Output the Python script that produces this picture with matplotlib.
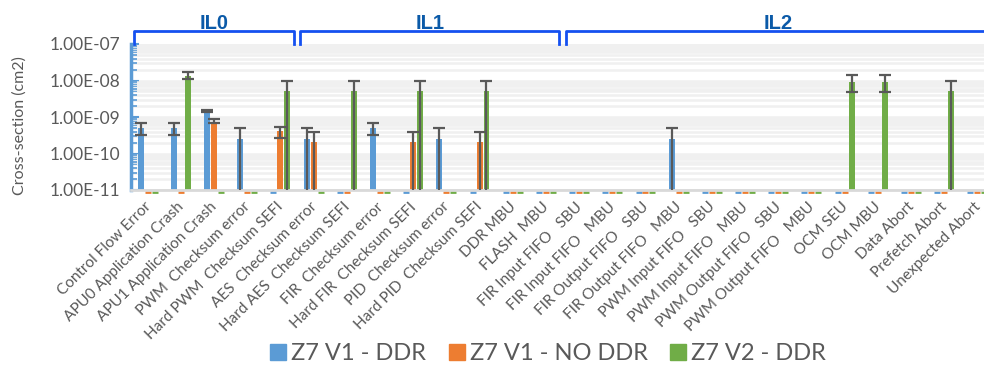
import numpy as np
import matplotlib.pyplot as plt
import matplotlib.transforms as mtransforms
from matplotlib.lines import Line2D

plt.rcParams['font.family'] = ['Lato', 'DejaVu Sans']

# categories (x axis)
categories = [
    'Control Flow Error', 'APU0 Application Crash', 'APU1 Application Crash',
    'PWM  Checksum error', 'Hard PWM  Checksum SEFI', 'AES  Checksum error',
    'Hard AES  Checksum SEFI', 'FIR  Checksum error', 'Hard FIR  Checksum SEFI',
    'PID  Checksum error', 'Hard PID  Checksum SEFI', 'DDR MBU', 'FLASH  MBU',
    'FIR Input FIFO   SBU', 'FIR Input FIFO   MBU', 'FIR Output FIFO   SBU',
    'FIR Output FIFO   MBU', 'PWM Input FIFO   SBU', 'PWM Input FIFO   MBU',
    'PWM Output FIFO   SBU', 'PWM Output FIFO   MBU', 'OCM SEU', 'OCM MBU',
    'Data Abort', 'Prefetch Abort', 'Unexpected Abort',
]
series_names = ['Z7 V1 - DDR', 'Z7 V1 - NO DDR', 'Z7 V2 - DDR']

# cross-section values (0 = no event)
v1_ddr = [5e-10, 5e-10, 1.45e-9, 2.5e-10, 0, 2.5e-10, 0, 5e-10, 0, 2.5e-10, 0,
          0, 0, 0, 0, 0, 2.5e-10, 0, 0, 0, 0, 0, 0, 0, 0, 0]
v1_noddr = [0, 0, 7.5e-10, 0, 4e-10, 2e-10, 0, 0, 2e-10, 0, 2e-10,
            0, 0, 0, 0, 0, 0, 0, 0, 0, 0, 0, 0, 0, 0, 0]
v2_ddr = [0, 1.3e-8, 0, 0, 5e-9, 0, 5e-9, 0, 5e-9, 0, 5e-9,
          0, 0, 0, 0, 0, 0, 0, 0, 0, 0, 9e-9, 9e-9, 0, 5e-9, 0]

# error bar limits (None = lower limit below the axis)
v1_ddr_lo = [3.2e-10, 3.2e-10, 1.35e-9, None, 0, None, 0, 3.2e-10, 0, None, 0,
             0, 0, 0, 0, 0, None, 0, 0, 0, 0, 0, 0, 0, 0, 0]
v1_ddr_hi = [6.8e-10, 6.8e-10, 1.6e-9, 5e-10, 0, 5e-10, 0, 6.8e-10, 0, 5e-10, 0,
             0, 0, 0, 0, 0, 5e-10, 0, 0, 0, 0, 0, 0, 0, 0, 0]
v1_noddr_lo = [0, 0, 6.9e-10, 0, 2.6e-10, None, 0, 0, None, 0, None,
               0, 0, 0, 0, 0, 0, 0, 0, 0, 0, 0, 0, 0, 0, 0]
v1_noddr_hi = [0, 0, 9e-10, 0, 5.4e-10, 4e-10, 0, 0, 4e-10, 0, 4e-10,
               0, 0, 0, 0, 0, 0, 0, 0, 0, 0, 0, 0, 0, 0, 0]
v2_ddr_lo = [0, 1.07e-8, 0, 0, None, 0, None, 0, None, 0, None,
             0, 0, 0, 0, 0, 0, 0, 0, 0, 0, 4.8e-9, 4.8e-9, 0, None, 0]
v2_ddr_hi = [0, 1.7e-8, 0, 0, 1e-8, 0, 1e-8, 0, 1e-8, 0, 1e-8,
             0, 0, 0, 0, 0, 0, 0, 0, 0, 0, 1.38e-8, 1.38e-8, 0, 1e-8, 0]

# test groups (label, first category, last category)
groups = [('IL0', 0, 4), ('IL1', 5, 12), ('IL2', 13, 25)]

colors = ['#5B9BD5', '#ED7D31', '#70AD47']
txt = '#595959'

fig = plt.figure(figsize=(9.84, 3.67), dpi=100)
ax = fig.add_axes([131 / 984, 177 / 367, 863 / 984, 146 / 367])

x = np.arange(len(categories))
offsets = [-0.21, 0.0, 0.21]
width = 0.18
vals_all = [v1_ddr, v1_noddr, v2_ddr]
lo_all = [v1_ddr_lo, v1_noddr_lo, v2_ddr_lo]
hi_all = [v1_ddr_hi, v1_noddr_hi, v2_ddr_hi]
below = mtransforms.blended_transform_factory(ax.transData, ax.transAxes)

for vals, lo, hi, off, c in zip(vals_all, lo_all, hi_all, offsets, colors):
    vals = np.array(vals, dtype=float)
    nz = vals > 0
    ax.bar(x[nz] + off, vals[nz], width=width, color=c, bottom=1e-12,
           zorder=2)
    # error bars
    for i in np.where(nz)[0]:
        low = lo[i] if lo[i] is not None else 1e-12
        ax.errorbar(x[i] + off, vals[i],
                    yerr=[[vals[i] - low], [hi[i] - vals[i]]],
                    fmt='none', ecolor='#595959', elinewidth=1.6,
                    capsize=4.5, capthick=1.6, zorder=3)
    # zero values drawn as small dashes under the axis
    z = ~nz
    ax.plot(x[z] + off, np.full(z.sum(), -0.012), linestyle='none',
            marker='_', markersize=4.5, markeredgewidth=2, color=c,
            transform=below, clip_on=False)

ax.set_yscale('log')
ax.set_ylim(1e-11, 1e-7)
ax.set_xlim(-0.5, len(categories) - 0.5)
ax.set_yticks([1e-11, 1e-10, 1e-9, 1e-8, 1e-7])
ax.set_yticklabels(['1.00E-11', '1.00E-10', '1.00E-09', '1.00E-08', '1.00E-07'],
                   fontsize=12.5, color=txt)
ax.set_ylabel('Cross-section (cm2)', fontsize=11.5, color=txt)
ax.yaxis.set_label_coords(-0.121, 0.44)
ax.yaxis.grid(True, which='both', color='#F0F0F0', linewidth=1.8, zorder=0)
ax.set_axisbelow(True)
ax.tick_params(axis='y', which='major', direction='in', length=6, width=1.5,
               color='#5B9BD5', pad=8)
ax.tick_params(axis='y', which='minor', direction='in', length=4, width=1.2,
               color='#5B9BD5')

ax.set_xticks(x)
ax.set_xticklabels(categories, rotation=45, ha='right', rotation_mode='anchor',
                   fontsize=11, color=txt)
ax.tick_params(axis='x', length=0, pad=7)
shift = mtransforms.ScaledTranslation(-4 / 100, 0, fig.dpi_scale_trans)
for lab in ax.get_xticklabels():
    lab.set_transform(lab.get_transform() + shift)

for s in ['top', 'right']:
    ax.spines[s].set_visible(False)
ax.spines['left'].set_color('#5B9BD5')
ax.spines['left'].set_linewidth(2.5)
ax.spines['bottom'].set_color('#D9D9D9')
ax.spines['bottom'].set_linewidth(2)

# group brackets above the plot
for name, a, b in groups:
    x0, x1 = a - 0.4, b + 0.4
    ax.plot([x0, x0, x1, x1], [1.0, 1.09, 1.09, 1.0], color='#1550F0',
            linewidth=2, transform=below, clip_on=False)
    ax.text((x0 + x1) / 2, 1.105, name, transform=below, ha='center',
            va='baseline', fontsize=14.5, fontweight='bold', color='#0B5AA8',
            family=['Liberation Sans', 'DejaVu Sans'])

handles = [Line2D([], [], linestyle='none', marker='s', markersize=11.5,
                  color=c) for c in colors]
fig.legend(handles, series_names, loc='center', bbox_to_anchor=(0.555, 0.036),
           ncol=3, frameon=False, fontsize=17, handletextpad=0.05,
           columnspacing=0.8, handlelength=1.0, labelcolor=txt)

fig.savefig('out.png', dpi=100)
